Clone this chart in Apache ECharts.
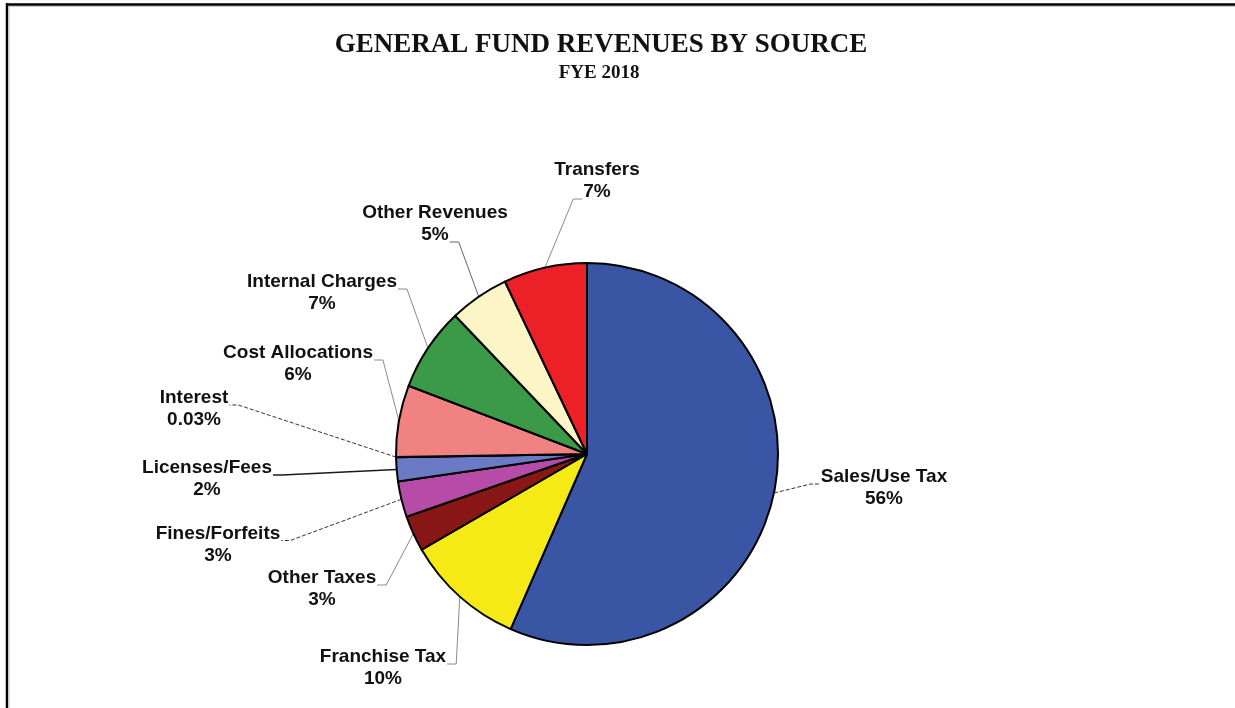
<!DOCTYPE html>
<html>
<head>
<meta charset="utf-8">
<title>General Fund Revenues by Source</title>
<script src="https://cdn.jsdelivr.net/npm/echarts@6/dist/echarts.min.js"></script>
<style>
  html, body { margin: 0; padding: 0; background: #ffffff; }
  #chart { width: 1235px; height: 708px; }
</style>
</head>
<body>
<div id="chart"></div>
<script>
// Revenue sources, clockwise from twelve o'clock
const categories = [
  'Sales/Use Tax', 'Franchise Tax', 'Other Taxes', 'Fines/Forfeits', 'Licenses/Fees',
  'Interest', 'Cost Allocations', 'Internal Charges', 'Other Revenues', 'Transfers'
];
// Share of general fund revenue, percent
const shares = [56, 10, 3, 3, 2, 0.03, 6, 7, 5, 7];

const titleText = 'GENERAL FUND REVENUES BY SOURCE';
const subtitleText = 'FYE 2018';

// Slice fills, same order as categories
const sliceColors = [
  '#3b55a5', '#f5ea16', '#8a1717', '#b74ba8', '#6b7ac6',
  '#f4a11c', '#f08282', '#3a9a48', '#fcf5c6', '#ec2027'
];

// Where each label block sits (block centre) and which end of which text line its leader hooks onto
const labelSpots = [
  { x: 884, y: 488,   hook: 'left',  line: 1 },
  { x: 383, y: 668,   hook: 'right', line: 1 },
  { x: 322, y: 589,   hook: 'right', line: 1 },
  { x: 218, y: 544.5, hook: 'right', line: 1 },
  { x: 207, y: 479,   hook: 'right', line: 1 },
  { x: 194, y: 409,   hook: 'right', line: 1 },
  { x: 298, y: 364,   hook: 'right', line: 1 },
  { x: 322, y: 293,   hook: 'right', line: 1 },
  { x: 435, y: 224,   hook: 'right', line: 2 },
  { x: 597, y: 181,   hook: 'left',  line: 2 }
];

// Leader line looks
const leaderStyles = [
  { color: '#333333', width: 1, type: [4, 2] },
  { color: '#8a8a8a', width: 1, type: 'solid' },
  { color: '#8a8a8a', width: 1, type: 'solid' },
  { color: '#333333', width: 1, type: [4, 2] },
  { color: '#1a1a1a', width: 1.5, type: 'solid' },
  { color: '#333333', width: 1, type: [4, 2] },
  { color: '#8a8a8a', width: 1, type: 'solid' },
  { color: '#8a8a8a', width: 1, type: 'solid' },
  { color: '#666666', width: 1, type: 'solid' },
  { color: '#8a8a8a', width: 1, type: 'solid' }
];

const LABEL_SIZE = 19;
const LABEL_LINE_HEIGHT = 22;
const labelFamily = '"Liberation Sans", Arial, Helvetica, sans-serif';

const measureCtx = document.createElement('canvas').getContext('2d');
measureCtx.font = 'bold ' + LABEL_SIZE + 'px ' + labelFamily;
function textWidth(s) { return measureCtx.measureText(s).width; }

const PIE_CENTER = [587, 454];
const PIE_RADIUS = 191;

// Fallback point on the rim at a slice's middle angle
function rimPoint(i) {
  const total = shares.reduce((a, b) => a + b, 0);
  let before = 0;
  for (let k = 0; k < i; k++) before += shares[k];
  const ang = ((before + shares[i] / 2) / total) * Math.PI * 2;
  return [PIE_CENTER[0] + PIE_RADIUS * Math.sin(ang), PIE_CENTER[1] - PIE_RADIUS * Math.cos(ang)];
}

const chart = echarts.init(document.getElementById('chart'), null, { renderer: 'canvas' });

chart.setOption({
  backgroundColor: '#ffffff',
  animation: false,
  graphic: [
    { type: 'line', shape: { x1: 6, y1: 4.5, x2: 1235, y2: 4.5 }, style: { stroke: '#000000', lineWidth: 2.5 }, silent: true },
    { type: 'line', shape: { x1: 9, y1: 6.5, x2: 1235, y2: 6.5 }, style: { stroke: '#c8c8c8', lineWidth: 1 }, silent: true },
    { type: 'line', shape: { x1: 7, y1: 3.3, x2: 7, y2: 708 }, style: { stroke: '#000000', lineWidth: 2.5 }, silent: true },
    { type: 'line', shape: { x1: 9, y1: 6, x2: 9, y2: 708 }, style: { stroke: '#c8c8c8', lineWidth: 1 }, silent: true },
    {
      type: 'text', x: 601, y: 45, silent: true,
      style: {
        text: titleText, fill: '#111111',
        font: 'bold 27px "Liberation Serif", "Times New Roman", serif',
        align: 'center', verticalAlign: 'middle', textAlign: 'center', textVerticalAlign: 'middle'
      }
    },
    {
      type: 'text', x: 599, y: 73, silent: true,
      style: {
        text: subtitleText, fill: '#111111',
        font: 'bold 19px "Liberation Serif", "Times New Roman", serif',
        align: 'center', verticalAlign: 'middle', textAlign: 'center', textVerticalAlign: 'middle'
      }
    }
  ],
  series: [{
    type: 'pie',
    center: PIE_CENTER,
    radius: PIE_RADIUS,
    startAngle: 90,
    clockwise: true,
    avoidLabelOverlap: false,
    minShowLabelAngle: 0,
    silent: true,
    emphasis: { disabled: true },
    itemStyle: { borderColor: '#000000', borderWidth: 2, borderRadius: 0 },
    label: {
      show: true,
      position: 'outside',
      formatter: '{b}\n{c}%',
      color: '#111111',
      fontFamily: labelFamily,
      fontWeight: 'bold',
      fontSize: LABEL_SIZE,
      lineHeight: LABEL_LINE_HEIGHT,
      align: 'center'
    },
    labelLine: { show: true, length: 10, length2: 10, smooth: false },
    labelLayout: function (p) {
      const i = p.dataIndex;
      const spot = labelSpots[i];
      const text = spot.line === 1 ? categories[i] : shares[i] + '%';
      const w = textWidth(text);
      const lineMid = spot.y + (spot.line === 1 ? -LABEL_LINE_HEIGHT / 2 : LABEL_LINE_HEIGHT / 2);
      const base = lineMid + 7;
      const dir = spot.hook === 'right' ? 1 : -1;
      const hx = spot.x + dir * (w / 2 + 1);
      const edge = (p.labelLinePoints && p.labelLinePoints[0])
        ? [p.labelLinePoints[0][0], p.labelLinePoints[0][1]]
        : rimPoint(i);
      return {
        x: spot.x,
        y: spot.y,
        align: 'center',
        verticalAlign: 'middle',
        labelLinePoints: [edge, [hx + dir * 9, base], [hx, base]]
      };
    },
    data: categories.map((name, i) => ({
      name: name,
      value: shares[i],
      itemStyle: { color: sliceColors[i] },
      labelLine: { lineStyle: leaderStyles[i] }
    }))
  }]
});
</script>
</body>
</html>
